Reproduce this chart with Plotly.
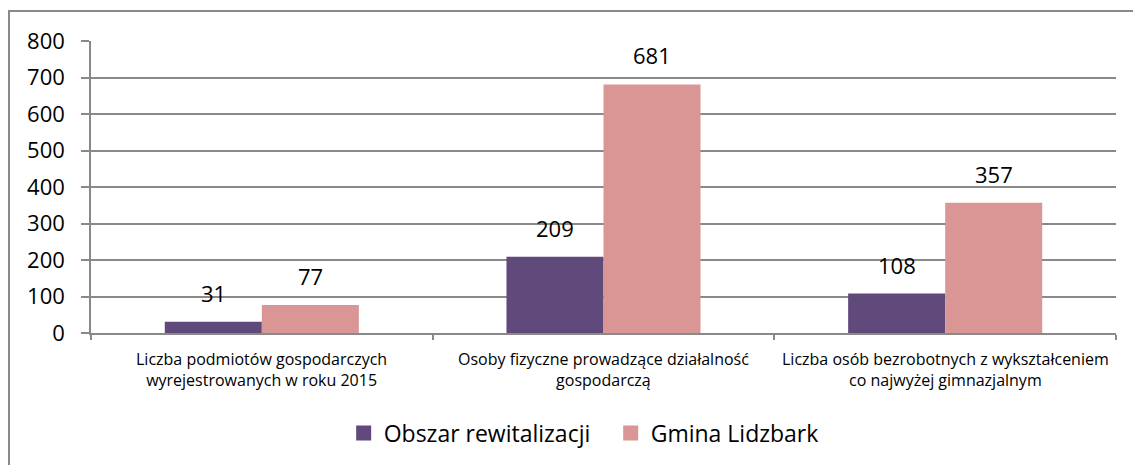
import plotly.graph_objects as go

categories = [
    "Liczba podmiotów gospodarczych<br>wyrejestrowanych w roku 2015",
    "Osoby fizyczne prowadzące działalność<br>gospodarczą",
    "Liczba osób bezrobotnych z wykształceniem<br>co najwyżej gimnazjalnym",
]
obszar = [31, 209, 108]
gmina = [77, 681, 357]

series = [
    ("Obszar rewitalizacji", obszar, "#604a7b", -0.142),
    ("Gmina Lidzbark", gmina, "#d99694", 0.142),
]

font = "'Open Sans', Carlito, Calibri, sans-serif"

fig = go.Figure()
for name, vals, color, off in series:
    fig.add_trace(go.Bar(x=list(range(len(categories))), y=vals, name=name,
                         marker=dict(color=color, line=dict(width=0)),
                         hoverinfo="y", showlegend=False))
    # legend entry with a bigger square swatch
    fig.add_trace(go.Scatter(x=[None], y=[None], mode="markers", name=name,
                             marker=dict(symbol="square", size=15, color=color)))
    for i, v in enumerate(vals):
        fig.add_annotation(x=i + off, y=v, text=str(v), showarrow=False,
                           yanchor="bottom", yshift=12,
                           font=dict(family=font, size=22, color="#000000"))

fig.update_layout(
    width=1133, height=465,
    margin=dict(l=91, r=17, t=41, b=131),
    paper_bgcolor="white", plot_bgcolor="white",
    barmode="group", bargap=0.432, bargroupgap=0,
    font=dict(family=font, color="#000000"),
    showlegend=True,
    legend=dict(orientation="h", x=0.507, xanchor="center", y=-0.338, yanchor="middle",
                font=dict(family=font, size=23, color="#000000"),
                itemwidth=30, entrywidth=222, traceorder="normal"),
    xaxis=dict(tickmode="array", tickvals=[-0.5, 0.5, 1.5, 2.5], ticktext=["", "", "", ""],
               range=[-0.5, 2.5], showgrid=False, showline=True, linecolor="#898989", linewidth=1.5,
               ticks="outside", ticklen=5, tickcolor="#898989", tickwidth=1.5),
    yaxis=dict(range=[0, 800], dtick=100, showgrid=True, gridcolor="#898989", gridwidth=1.5,
               showline=True, linecolor="#898989", linewidth=1.5, zeroline=False,
               ticks="outside", ticklen=8, tickcolor="#898989", tickwidth=1.5,
               ticklabelstandoff=12,
               tickfont=dict(family=font, size=22, color="#000000")),
)

# category labels under the axis
for i, c in enumerate(categories):
    fig.add_annotation(x=i, y=0, xref="x", yref="paper", yanchor="top", yshift=-13,
                       text=c, showarrow=False, align="center",
                       font=dict(family=font, size=16, color="#000000"))

# outer chart border
fig.add_shape(type="rect", xref="paper", yref="paper",
              x0=-0.08, x1=1.2, y0=-0.6, y1=1.1024,
              line=dict(color="#898989", width=2), fillcolor="rgba(0,0,0,0)", layer="below")

fig.write_html("out.html", config={"displayModeBar": False},
               post_script="document.body.style.margin='0';")
